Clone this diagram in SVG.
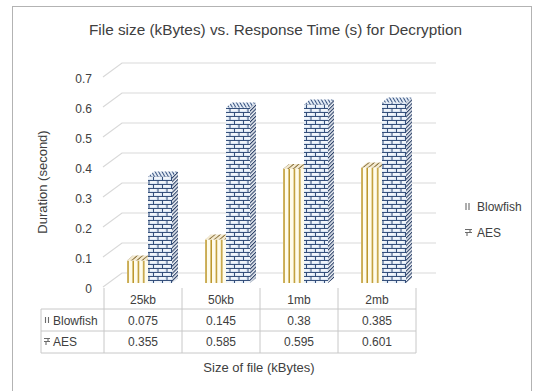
<svg xmlns="http://www.w3.org/2000/svg" width="537" height="391" viewBox="0 0 537 391">
<style>
text{font-family:"Liberation Sans",Arial,sans-serif;fill:#404040}
.ax{font-size:12px;text-anchor:end}
.tc{font-size:12px;text-anchor:middle}
.tl{font-size:12px}
.grid{stroke:#d9d9d9;stroke-width:1.2;fill:none}
.tab{stroke:#c8c8c8;stroke-width:1;fill:none}
.bff{fill:url(#stripes)}
.bft{fill:url(#diag)}
.aesf{fill:url(#brick)}
.aess{fill:url(#hatch)}
.aest{fill:url(#hatch2)}
.key{stroke:#6b6b6b;stroke-width:1.1;fill:none}
</style>
<defs>
<pattern id="stripes" patternUnits="objectBoundingBox" width="0.25" height="1">
<rect width="10" height="400" fill="#fffcec"/>
<rect x="0.3" width="1.4" height="400" fill="#b8901e"/>
</pattern>
<pattern id="diag" patternUnits="userSpaceOnUse" width="5.25" height="10" patternTransform="skewX(-50)">
<rect width="6" height="10" fill="#f4ead0"/>
<rect x="0.3" width="1.5" height="10" fill="#8c7440"/>
</pattern>
<pattern id="brick" patternUnits="userSpaceOnUse" width="9" height="8">
<rect width="9" height="8" fill="#dce7f4"/>
<rect x="1.5" y="1.4" width="6" height="1.2" fill="#ffffff"/>
<rect x="6" y="5.4" width="6" height="1.2" fill="#ffffff"/>
<rect x="-3" y="5.4" width="6" height="1.2" fill="#ffffff"/>
<path d="M0,0.5H9M0,4.5H9M0.5,0.5V4.5M5,4.5V8" stroke="#25406e" stroke-width="0.9"/>
</pattern>
<pattern id="hatch" patternUnits="userSpaceOnUse" width="2.6" height="2.6" patternTransform="rotate(45)">
<rect width="2.6" height="2.6" fill="#eef2f7"/>
<rect width="1.1" height="2.6" fill="#2a3f66"/>
</pattern>
<pattern id="hatch2" patternUnits="userSpaceOnUse" width="3" height="3" patternTransform="rotate(-30)">
<rect width="3" height="3" fill="#e4ecf6"/>
<rect width="1" height="3" fill="#3a5582"/>
</pattern>
</defs>

<rect x="12.5" y="6.5" width="519" height="400" fill="#ffffff" stroke="#b3b3b3" stroke-width="1"/>

<text id="title" x="89" y="35" font-size="15.5" textLength="373" lengthAdjust="spacingAndGlyphs">File size (kBytes) vs. Response Time (s) for Decryption</text>

<g id="gridlines">
<path class="grid" d="M103,287L122,273H436M103,257L122,243H436M103,227L122,213H436M103,197L122,183H436M103,167L122,153H436M103,137L122,123H436M103,107L122,93H436M103,77L122,63H436"/>
</g>

<g id="y-axis">
<text class="ax" x="92" y="293">0</text>
<text class="ax" x="92" y="263">0.1</text>
<text class="ax" x="92" y="233">0.2</text>
<text class="ax" x="92" y="203">0.3</text>
<text class="ax" x="92" y="173">0.4</text>
<text class="ax" x="92" y="143">0.5</text>
<text class="ax" x="92" y="113">0.6</text>
<text class="ax" x="92" y="83">0.7</text>
<text x="0" y="0" font-size="13" text-anchor="middle" transform="translate(47,182) rotate(-90)">Duration (second)</text>
</g>

<g id="bars-25kb">
<rect class="bff" x="127" y="260.5" width="21" height="22.5"/>
<polygon class="bft" points="127,260.5 148,260.5 154,255.5 133,255.5"/>
<rect class="aesf" x="148" y="176.5" width="24" height="106.5"/>
<polygon class="aess" points="172,176.5 178,171.5 178,278 172,283"/>
<polygon class="aest" points="148,176.5 172,176.5 178,171.5 154,171.5"/>
</g>
<g id="bars-50kb">
<rect class="bff" x="205" y="239.5" width="21" height="43.5"/>
<polygon class="bft" points="205,239.5 226,239.5 232,234.5 211,234.5"/>
<rect class="aesf" x="226" y="107.5" width="24" height="175.5"/>
<polygon class="aess" points="250,107.5 256,102.5 256,278 250,283"/>
<polygon class="aest" points="226,107.5 250,107.5 256,102.5 232,102.5"/>
</g>
<g id="bars-1mb">
<rect class="bff" x="283" y="169" width="21" height="114"/>
<polygon class="bft" points="283,169 304,169 310,164 289,164"/>
<rect class="aesf" x="304" y="104.5" width="24" height="178.5"/>
<polygon class="aess" points="328,104.5 334,99.5 334,278 328,283"/>
<polygon class="aest" points="304,104.5 328,104.5 334,99.5 310,99.5"/>
</g>
<g id="bars-2mb">
<rect class="bff" x="361" y="167.5" width="21" height="115.5"/>
<polygon class="bft" points="361,167.5 382,167.5 388,162.5 367,162.5"/>
<rect class="aesf" x="382" y="102.5" width="24" height="180.5"/>
<polygon class="aess" points="406,102.5 412,97.5 412,278 406,283"/>
<polygon class="aest" points="382,102.5 406,102.5 412,97.5 388,97.5"/>
</g>

<g id="legend">
<path class="key" d="M466,203V210M469,203V210"/>
<text class="tl" x="477" y="210.5">Blowfish</text>
<path class="key" d="M465,229.5H472M465,232.5H472M470,229.5V232.5M467,232.5V236"/>
<text class="tl" x="477" y="236.5">AES</text>
</g>

<g id="data-table">
<path class="tab" d="M104,288V353M182,288V353M260,288V353M338,288V353M416,288V353M41,309V353M41,309H416M41,331H416M41,353H416"/>
<text class="tc" x="143" y="304">25kb</text>
<text class="tc" x="221" y="304">50kb</text>
<text class="tc" x="299" y="304">1mb</text>
<text class="tc" x="377" y="304">2mb</text>
<path class="key" d="M45.5,317V323M48.5,317V323"/>
<text class="tl" x="53" y="324.5">Blowfish</text>
<text class="tc" x="143" y="324.5">0.075</text>
<text class="tc" x="221" y="324.5">0.145</text>
<text class="tc" x="299" y="324.5">0.38</text>
<text class="tc" x="377" y="324.5">0.385</text>
<path class="key" d="M44,338.5H50M44,341.5H50M48,338.5V341.5M46,341.5V345"/>
<text class="tl" x="53" y="346">AES</text>
<text class="tc" x="143" y="346">0.355</text>
<text class="tc" x="221" y="346">0.585</text>
<text class="tc" x="299" y="346">0.595</text>
<text class="tc" x="377" y="346">0.601</text>
</g>

<text id="x-title" x="259" y="372" font-size="13" text-anchor="middle">Size of file (kBytes)</text>
</svg>
